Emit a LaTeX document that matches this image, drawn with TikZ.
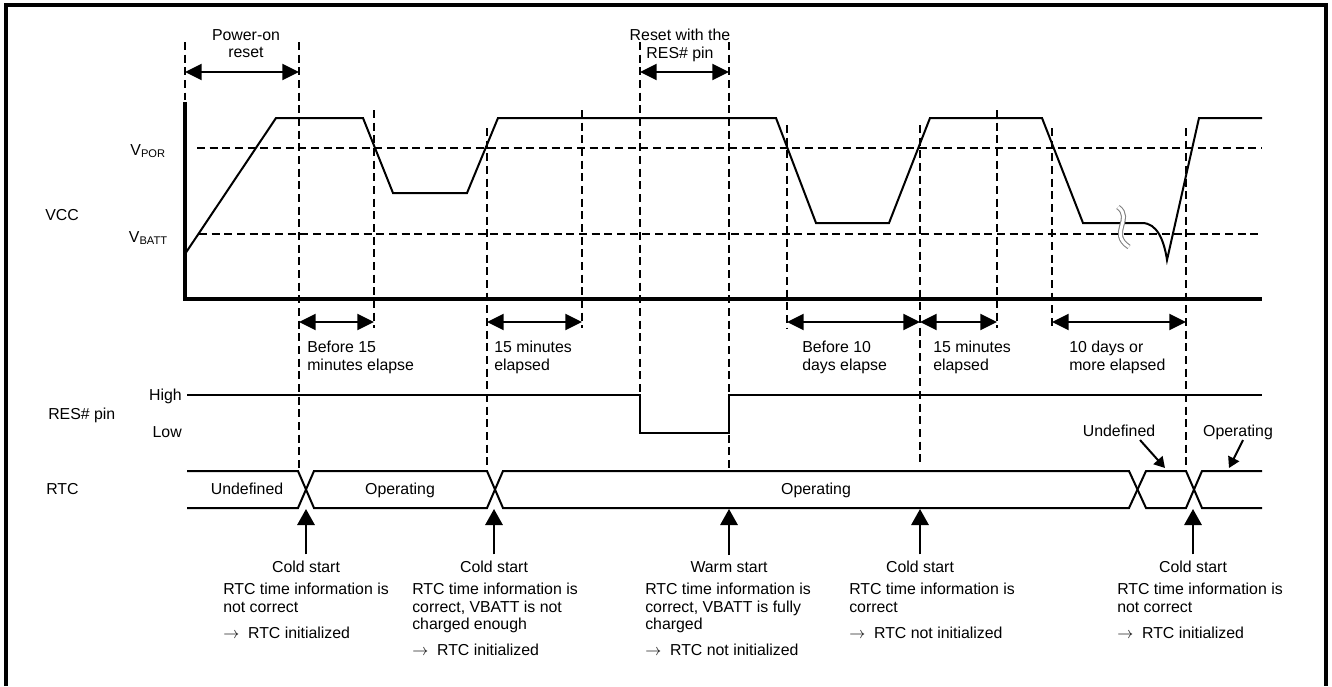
\documentclass[tikz,border=0pt]{standalone}
\usepackage{fontspec}
\setmainfont{Liberation Sans}
\usepackage{tikz}
\usetikzlibrary{arrows.meta, positioning}

\begin{document}
\begin{tikzpicture}[x=0.75pt, y=-0.75pt,
        every node/.style={font=\fontsize{11.9}{13.1}\selectfont, inner sep=0pt},
        wave/.style={line width=1.5pt},
        axis/.style={line width=2.4pt},
        guide/.style={line width=1.4pt, dash pattern=on 6pt off 3.5pt},
        span/.style={line width=1.5pt, {Triangle[length=12.5pt,width=12pt]}-{Triangle[length=12.5pt,width=12pt]}},
        uparrow/.style={line width=1.5pt, -{Triangle[length=12pt,width=13pt]}},
        pointer/.style={line width=1.5pt, -{Triangle[length=8pt,width=9pt]}},
        note/.style={align=left, anchor=north west}]
        \useasboundingbox (0,0) rectangle (1332,686);
        % Define the frame
        \draw[axis] (6,686) -- (6,5) -- (1326,5) -- (1326,686);
        % Define the guide lines
        \draw[guide] (197,148) -- (1262,148) (199,234) -- (1262,234);
        \draw[guide]
        (185,42) -- (185,100)
        (299,42) -- (299,470)
        (374,110) -- (374,328)
        (487,128) -- (487,470)
        (582,110) -- (582,328)
        (640,42) -- (640,395)
        (729,42) -- (729,470)
        (787,125) -- (787,328)
        (920,125) -- (920,465)
        (997,110) -- (997,328)
        (1052,128) -- (1052,328)
        (1186,128) -- (1186,470);
        % Define the VCC plot
        \draw[axis] (185,102) -- (185,299) -- (1262,299);
        \draw[wave] (185,254) -- (276,118) -- (363,118) -- (393,193) -- (467,193)
        -- (498,118) -- (776,118) -- (816,223) -- (889,223) -- (930,118)
        -- (1042,118) -- (1083,223) -- (1142,223)
        .. controls (1157,223) and (1164,240) .. (1167,260) -- (1199,118) -- (1262,118);
        \draw[gray, line width=0.8pt, double=white, double distance=2.2pt]
        (1118,207) .. controls (1134,219) and (1108,233) .. (1129,247);
        \node[anchor=base west] (vcc) at (45,220.6) {VCC};
        \node[anchor=base east] (vpor) at (166,155) {V\textsubscript{POR}};
        \node[anchor=base east] (vbatt) at (168,242) {V\textsubscript{BATT}};
        % Define the time spans
        \node[align=center, anchor=north] (por_lbl) at (246,29) {Power-on\\reset};
        \node[align=center, anchor=north] (rst_lbl) at (680,29) {Reset with the\\RES\# pin};
        \draw[span] (185,72) -- (299,72);
        \draw[span] (640,72) -- (729,72);
        \draw[span] (299,322) -- (374,322);
        \draw[span] (487,322) -- (582,322);
        \draw[span] (787,322) -- (920,322);
        \draw[span] (920,322) -- (997,322);
        \draw[span] (1052,322) -- (1186,322);
        \node[note] (span_a) at (307,341) {Before 15\\minutes elapse};
        \node[note] (span_b) at (494,341) {15 minutes\\elapsed};
        \node[note] (span_c) at (802,341) {Before 10\\days elapse};
        \node[note] (span_d) at (933,341) {15 minutes\\elapsed};
        \node[note] (span_e) at (1069,341) {10 days or\\more elapsed};
        % Define the RES# pin signal
        \node[anchor=base west] (res) at (48,419) {RES\# pin};
        \node[anchor=base east] (high) at (182,400) {High};
        \node[anchor=base east] (low) at (182,437.6) {Low};
        \draw[wave] (187,395) -- (640,395) -- (640,433) -- (729,433) -- (729,395) -- (1262,395);
        % Define the RTC bus
        \node[anchor=base west] (rtc) at (46,494.6) {RTC};
        \draw[wave] (187,471) -- (298,471) -- (314,508) -- (487,508) -- (503,471)
        -- (1129,471) -- (1146,508) -- (1186,508) -- (1202,471) -- (1262,471);
        \draw[wave] (187,508) -- (298,508) -- (314,471) -- (487,471) -- (503,508)
        -- (1129,508) -- (1146,471) -- (1186,471) -- (1202,508) -- (1262,508);
        \node[anchor=base] (undef_a) at (247,494.5) {Undefined};
        \node[anchor=base] (oper_a) at (400,494.5) {Operating};
        \node[anchor=base] (oper_b) at (816,494.5) {Operating};
        \node[anchor=base] (undef_b) at (1119,436.6) {Undefined};
        \node[anchor=base] (oper_c) at (1238,436.6) {Operating};
        \coordinate (undef_tip) at (1165,468);
        \coordinate (oper_tip) at (1229,468);
        \draw[pointer] (1140,440) -- (undef_tip);
        \draw[pointer] (1243,440) -- (oper_tip);
        % Define the start events
        \coordinate (tip_a) at (306,509);
        \coordinate (tip_b) at (494,509);
        \coordinate (tip_c) at (729,509);
        \coordinate (tip_d) at (920,509);
        \coordinate (tip_e) at (1193,509);
        \node[anchor=base] (start_a) at (306,572.6) {Cold start};
        \node[anchor=base] (start_b) at (494,572.6) {Cold start};
        \node[anchor=base] (start_c) at (729,572.6) {Warm start};
        \node[anchor=base] (start_d) at (920,572.6) {Cold start};
        \node[anchor=base] (start_e) at (1193,572.6) {Cold start};
        \path[uparrow, shorten <=4.8pt]
        (start_a.north) edge (tip_a)
        (start_b.north) edge (tip_b)
        (start_c.north) edge (tip_c)
        (start_d.north) edge (tip_d)
        (start_e.north) edge (tip_e);
        \node[note] (info_a) at (223,583) {RTC time information is\\not correct\\[6.4pt]$\rightarrow$\ \ RTC initialized};
        \node[note] (info_b) at (412,583) {RTC time information is\\correct, VBATT is not\\charged enough\\[6.4pt]$\rightarrow$\ \ RTC initialized};
        \node[note] (info_c) at (645,583) {RTC time information is\\correct, VBATT is fully\\charged\\[6.4pt]$\rightarrow$\ \ RTC not initialized};
        \node[note] (info_d) at (849,583) {RTC time information is\\correct\\[6.4pt]$\rightarrow$\ \ RTC not initialized};
        \node[note] (info_e) at (1117,583) {RTC time information is\\not correct\\[6.4pt]$\rightarrow$\ \ RTC initialized};
    \end{tikzpicture}
\end{document}
